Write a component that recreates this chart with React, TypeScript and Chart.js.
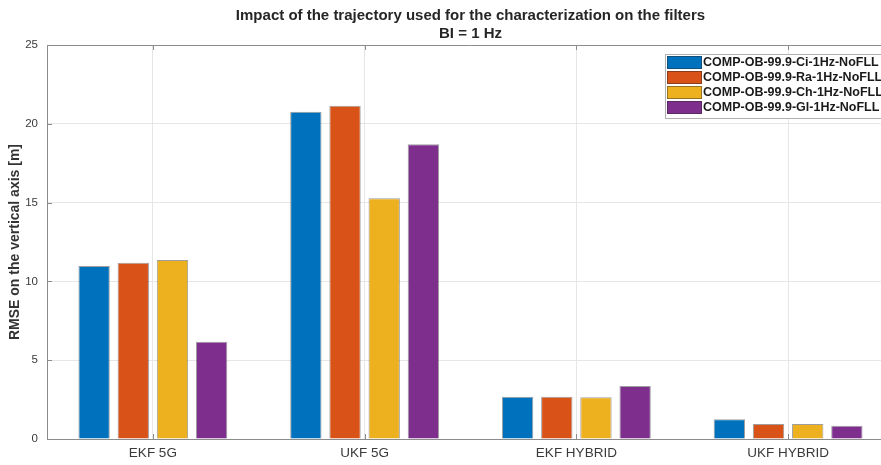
import React, { useEffect, useRef } from 'react';
import { Chart, registerables } from 'chart.js';

Chart.register(...registerables);

const categories = ['EKF 5G', 'UKF 5G', 'EKF HYBRID', 'UKF HYBRID'];
const seriesNames = [
  'COMP-OB-99.9-Ci-1Hz-NoFLL',
  'COMP-OB-99.9-Ra-1Hz-NoFLL',
  'COMP-OB-99.9-Ch-1Hz-NoFLL',
  'COMP-OB-99.9-Gl-1Hz-NoFLL',
];
const ciValues = [10.98, 20.77, 2.68, 1.25];
const raValues = [11.18, 21.15, 2.68, 0.95];
const chValues = [11.36, 15.28, 2.65, 0.95];
const glValues = [6.17, 18.7, 3.36, 0.84];
const seriesColors = ['#0072BD', '#D95319', '#EDB120', '#7E2F8E'];
const yTicks = [0, 5, 10, 15, 20, 25];
const titleLines = [
  'Impact of the trajectory used for the characterization on the filters',
  'BI = 1 Hz',
];
const yAxisTitle = 'RMSE on the vertical axis [m]';

const FONT = "'Liberation Sans', Arial, Helvetica, sans-serif";
const AXIS_COLOR = '#8c8c8c';
const GRID_COLOR = '#e6e6e6';
const TEXT_COLOR = '#3a3a3a';

const decorPlugin = {
  id: 'decor',
  afterDraw(chart: any) {
    const ctx = chart.ctx;
    const { left, right, top, bottom } = chart.chartArea;
    const xs = chart.scales.x;
    const ys = chart.scales.y;
    ctx.save();
    // box top line
    ctx.strokeStyle = AXIS_COLOR;
    ctx.lineWidth = 1;
    ctx.beginPath();
    ctx.moveTo(left, top + 0.5);
    ctx.lineTo(right, top + 0.5);
    ctx.stroke();
    // inward ticks
    ctx.beginPath();
    for (let i = 0; i < categories.length; i++) {
      const px = Math.round(xs.getPixelForTick(i)) + 0.5;
      ctx.moveTo(px, bottom);
      ctx.lineTo(px, bottom - 5);
      ctx.moveTo(px, top);
      ctx.lineTo(px, top + 5);
    }
    for (const v of yTicks) {
      const py = Math.round(ys.getPixelForValue(v)) + 0.5;
      ctx.moveTo(left, py);
      ctx.lineTo(left + 5, py);
    }
    ctx.stroke();

    // title
    ctx.fillStyle = '#262626';
    ctx.font = `bold 15px ${FONT}`;
    ctx.textAlign = 'center';
    ctx.textBaseline = 'middle';
    const cx = (left + right) / 2;
    ctx.fillText(titleLines[0], cx, 16);
    ctx.fillText(titleLines[1], cx, 34);

    // legend
    const bx = right - 229;
    const by = top + 9;
    const bw = 260;
    const bh = 64;
    ctx.fillStyle = '#ffffff';
    ctx.fillRect(bx, by, bw, bh);
    ctx.strokeStyle = '#b0b0b0';
    ctx.strokeRect(bx + 0.5, by + 0.5, bw, bh);
    chart.data.datasets.forEach((ds: any, i: number) => {
      const ry = by + 2 + i * 15;
      ctx.fillStyle = ds.backgroundColor;
      ctx.fillRect(bx + 2, ry, 35, 13);
      ctx.strokeStyle = 'rgba(40,40,40,0.45)';
      ctx.strokeRect(bx + 2.5, ry + 0.5, 34, 12);
      ctx.fillStyle = '#1a1a1a';
      ctx.font = `bold 12.5px ${FONT}`;
      ctx.textAlign = 'left';
      ctx.textBaseline = 'middle';
      ctx.fillText(ds.label, bx + 38, ry + 7);
    });
    ctx.restore();
  },
};

export default function App() {
  const canvasRef = useRef<HTMLCanvasElement | null>(null);

  useEffect(() => {
    const canvas = canvasRef.current;
    if (!canvas) return;
    const allValues = [ciValues, raValues, chValues, glValues];
    const chart = new Chart(canvas, {
      type: 'bar',
      data: {
        labels: categories,
        datasets: seriesNames.map((name, i) => ({
          label: name,
          data: allValues[i],
          backgroundColor: seriesColors[i],
          borderColor: 'rgba(40,40,40,0.45)',
          borderWidth: 1,
          barPercentage: 0.8,
          categoryPercentage: 0.74,
        })),
      },
      options: {
        responsive: false,
        animation: false,
        devicePixelRatio: 1,
        layout: { padding: { top: 45, right: 6, left: 0, bottom: 0 } },
        plugins: {
          legend: { display: false },
          title: { display: false },
          tooltip: { enabled: false },
        },
        scales: {
          x: {
            type: 'category',
            grid: {
              offset: false,
              color: GRID_COLOR,
              drawTicks: false,
            },
            border: { color: AXIS_COLOR, width: 1 },
            ticks: {
              color: TEXT_COLOR,
              font: { family: FONT, size: 13.5 },
              padding: 6,
              maxRotation: 0,
            },
            afterFit(scale: any) {
              scale.height = 26;
            },
          },
          y: {
            min: 0,
            max: 25,
            grid: { color: GRID_COLOR, drawTicks: false },
            border: { color: AXIS_COLOR, width: 1 },
            ticks: {
              stepSize: 5,
              color: TEXT_COLOR,
              font: { family: FONT, size: 11.5 },
              padding: 9,
              callback: (v: any) => (yTicks.includes(Number(v)) ? String(v) : ''),
            },
            title: {
              display: true,
              text: yAxisTitle,
              color: '#333333',
              font: { family: FONT, size: 14, weight: 'bold' },
              padding: { top: 7, bottom: 0 },
            },
            afterFit(scale: any) {
              scale.width = 47;
            },
          },
        },
      },
      plugins: [decorPlugin],
    });
    return () => chart.destroy();
  }, []);

  return (
    <div
      style={{
        position: 'fixed',
        left: 0,
        top: 0,
        width: 881,
        height: 465,
        overflow: 'hidden',
        background: '#ffffff',
      }}
    >
      <canvas ref={canvasRef} width={900} height={465} style={{ width: 900, height: 465, display: 'block' }} />
    </div>
  );
}
